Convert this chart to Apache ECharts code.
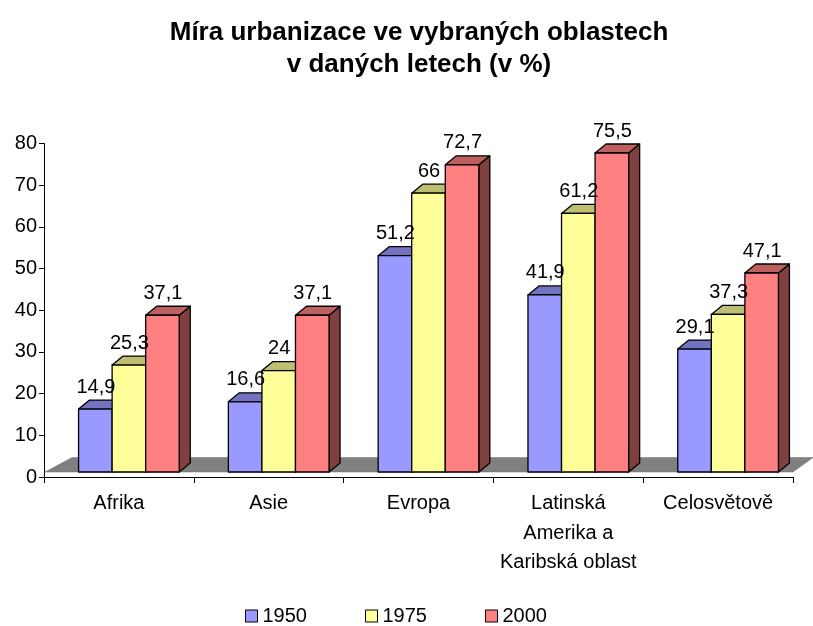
<!DOCTYPE html>
<html>
<head>
<meta charset="utf-8">
<script src="https://cdn.jsdelivr.net/npm/echarts@6/dist/echarts.min.js"></script>
<style>html,body{margin:0;padding:0;background:#fff}#c{width:813px;height:626px}</style>
</head>
<body>
<div id="c"></div>
<script>
const categories = ['Afrika', 'Asie', 'Evropa', 'Latinská\nAmerika a\nKaribská oblast', 'Celosvětově'];
const seriesNames = ['1950', '1975', '2000'];
const values1950 = [14.9, 16.6, 51.2, 41.9, 29.1];
const values1975 = [25.3, 24, 66, 61.2, 37.3];
const values2000 = [37.1, 37.1, 72.7, 75.5, 47.1];
const yTicks = { min: 0, max: 80, interval: 10 };

const FONT = 'Liberation Sans, Arial, sans-serif';
const FS = 20;
const faceColors = [
  { front: '#9999FF', top: '#7373C0', side: '#4D4D80' },
  { front: '#FFFF99', top: '#BFBF73', side: '#80804D' },
  { front: '#FF8080', top: '#BF6060', side: '#804040' }
];
const BAR_FRAC = 0.224, SHIFT = 10, DX = 11, DY = -9;

function fmt(v) { return String(v).replace('.', ','); }

function barGeom(k, api) {
  const i = api.value(0), v = api.value(1);
  const base = api.coord([i, 0]);
  const top = api.coord([i, v]);
  const band = api.size([1, 0])[0];
  const bw = band * BAR_FRAC;
  const x0 = base[0] + SHIFT - 1.5 * bw + k * bw;
  return { v: v, x0: x0, x1: x0 + bw, bw: bw, yb: base[1], yt: top[1] };
}

function makeRender(k) {
  return function (params, api) {
    const g = barGeom(k, api);
    const c = faceColors[k];
    const line = { stroke: '#000', lineWidth: 1.3, lineJoin: 'round' };
    return {
      type: 'group',
      children: [
        { type: 'polygon', shape: { points: [[g.x1, g.yb], [g.x1 + DX, g.yb + DY], [g.x1 + DX, g.yt + DY], [g.x1, g.yt]] },
          style: Object.assign({ fill: c.side }, line) },
        { type: 'polygon', shape: { points: [[g.x0, g.yt], [g.x0 + DX, g.yt + DY], [g.x1 + DX, g.yt + DY], [g.x1, g.yt]] },
          style: Object.assign({ fill: c.top }, line) },
        { type: 'rect', shape: { x: g.x0, y: g.yt, width: g.bw, height: g.yb - g.yt },
          style: Object.assign({ fill: c.front }, line) }
      ]
    };
  };
}

function makeLabelRender(k) {
  return function (params, api) {
    const g = barGeom(k, api);
    return { type: 'text', x: (g.x0 + g.x1) / 2 + 0.5, y: g.yt - 12,
      style: { text: fmt(g.v), fill: '#000', font: FS + 'px ' + FONT, align: 'center', verticalAlign: 'bottom' } };
  };
}

function renderFloor(params, api) {
  const cs = params.coordSys;
  const yf = api.coord([0, 0])[1];
  const xl = cs.x + 1, xr = cs.x + cs.width;
  return {
    type: 'polygon',
    shape: { points: [[xl, yf], [xl + 27, yf - 14.5], [xr + 20, yf - 14.5], [xr, yf]] },
    style: { fill: '#808080', stroke: '#6e6e6e', lineWidth: 0.5 }
  };
}

const allValues = [values1950, values1975, values2000];
const series = [{
  type: 'custom', name: 'floor', xAxisIndex: 1, yAxisIndex: 1,
  renderItem: renderFloor, data: [[0, 0]], silent: true, z: 1
}];
seriesNames.forEach((n, k) => {
  series.push({
    type: 'custom', name: n, xAxisIndex: 1, yAxisIndex: 1, z: 2,
    itemStyle: { color: faceColors[k].front, borderColor: '#000', borderWidth: 1 },
    renderItem: makeRender(k),
    encode: { x: 0, y: 1 },
    data: allValues[k].map((v, i) => [i, v])
  });
});
seriesNames.forEach((n, k) => {
  series.push({
    type: 'custom', name: n + ' labels', xAxisIndex: 1, yAxisIndex: 1, z: 5, silent: true,
    renderItem: makeLabelRender(k),
    encode: { x: 0, y: 1 },
    data: allValues[k].map((v, i) => [i, v])
  });
});

const chart = echarts.init(document.getElementById('c'), null, { renderer: 'canvas' });
chart.setOption({
  animation: false,
  backgroundColor: '#fff',
  title: {
    text: 'Míra urbanizace ve vybraných oblastech\nv daných letech (v %)',
    left: 414, top: 12, textAlign: 'center',
    textStyle: { fontFamily: FONT, fontSize: 26, fontWeight: 'bold', color: '#000', lineHeight: 32 }
  },
  legend: {
    data: seriesNames.map((n, k) => ({ name: n, itemStyle: { color: faceColors[k].front, borderColor: '#000', borderWidth: 1 } })),
    top: 601, left: 240, itemWidth: 12, itemHeight: 12, itemGap: 58, icon: 'rect',
    textStyle: { fontFamily: FONT, fontSize: FS, color: '#000' }
  },
  grid: [
    { left: 44, right: 20, top: 143.5, bottom: 149 },
    { left: 44, right: 20, top: 134, bottom: 154 }
  ],
  xAxis: [
    { type: 'category', gridIndex: 0, data: categories,
      axisLine: { lineStyle: { color: '#000', width: 1 } },
      axisTick: { show: true, length: 6, lineStyle: { color: '#000' } },
      axisLabel: { color: '#000', fontFamily: FONT, fontSize: FS, lineHeight: 29.5, margin: 12, interval: 0 } },
    { type: 'category', gridIndex: 1, data: categories, show: false }
  ],
  yAxis: [
    { type: 'value', gridIndex: 0, min: yTicks.min, max: yTicks.max, interval: yTicks.interval,
      axisLine: { show: true, lineStyle: { color: '#000', width: 1 } },
      axisTick: { show: true, length: 5, lineStyle: { color: '#000' } },
      axisLabel: { color: '#000', fontFamily: FONT, fontSize: FS, margin: 7 },
      splitLine: { show: false } },
    { type: 'value', gridIndex: 1, min: yTicks.min, max: yTicks.max, interval: yTicks.interval, show: false, splitLine: { show: false } }
  ],
  series: series
});
</script>
</body>
</html>
